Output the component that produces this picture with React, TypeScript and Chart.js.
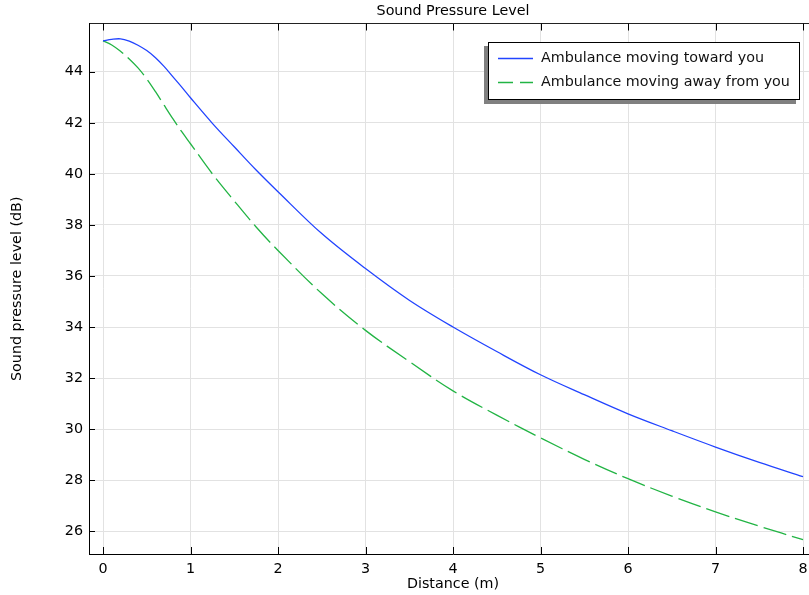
import React, { useEffect, useRef } from "react";
import { Chart, registerables } from "chart.js";

Chart.register(...registerables);

const DISTANCE = [0, 0.1, 0.2, 0.3, 0.4, 0.5, 0.6, 0.7, 0.8, 0.9, 1.0, 1.25, 1.5, 1.75, 2.0, 2.5, 3.0, 3.5, 4.0, 4.5, 5.0, 5.5, 6.0, 6.5, 7.0, 7.5, 8.0];
const TOWARD = [45.21, 45.27, 45.29, 45.2, 45.04, 44.83, 44.55, 44.2, 43.8, 43.4, 42.98, 41.98, 41.06, 40.15, 39.3, 37.66, 36.29, 35.05, 34.0, 33.04, 32.13, 31.35, 30.6, 29.94, 29.3, 28.7, 28.14];
const AWAY = [45.21, 45.05, 44.8, 44.5, 44.15, 43.72, 43.22, 42.68, 42.15, 41.65, 41.18, 40.0, 38.94, 37.92, 37.0, 35.31, 33.87, 32.65, 31.5, 30.55, 29.66, 28.82, 28.06, 27.38, 26.76, 26.2, 25.67];

const X_TICKS = [0, 1, 2, 3, 4, 5, 6, 7, 8];
const Y_TICKS = [26, 28, 30, 32, 34, 36, 38, 40, 42, 44];

const SERIES_LABELS = ["Ambulance moving toward you", "Ambulance moving away from you"];
const TITLE = "Sound Pressure Level";
const X_TITLE = "Distance (m)";
const Y_TITLE = "Sound pressure level (dB)";

const FONT = "'DejaVu Sans', sans-serif";
const FS = 14.3;

const frameAndTicks = {
  id: "frameAndTicks",
  afterDraw(chart: any) {
    const { ctx, chartArea: a, scales } = chart;
    const x = scales.x;
    const y = scales.y;
    ctx.save();
    ctx.strokeStyle = "#000";
    ctx.lineWidth = 1;
    ctx.beginPath();
    for (const t of x.ticks) {
      const px = Math.round(x.getPixelForValue(t.value)) + 0.5;
      ctx.moveTo(px, a.bottom);
      ctx.lineTo(px, a.bottom - 7);
      ctx.moveTo(px, a.top);
      ctx.lineTo(px, a.top + 7);
    }
    for (const t of y.ticks) {
      const py = Math.round(y.getPixelForValue(t.value)) + 0.5;
      ctx.moveTo(a.left, py);
      ctx.lineTo(a.left + 6, py);
    }
    ctx.stroke();
    ctx.restore();
  },
};

const boxLegend = {
  id: "boxLegend",
  afterDraw(chart: any) {
    const { ctx } = chart;
    const bx = 488, by = 42, bw = 312, bh = 58;
    ctx.save();
    ctx.fillStyle = "#808080";
    ctx.fillRect(bx - 4, by + 4, bw, bh);
    ctx.fillStyle = "#fff";
    ctx.fillRect(bx, by, bw, bh);
    ctx.strokeStyle = "#000";
    ctx.lineWidth = 1;
    ctx.strokeRect(bx + 0.5, by + 0.5, bw - 1, bh - 1);
    ctx.font = `${FS}px ${FONT}`;
    ctx.textBaseline = "middle";
    chart.data.datasets.forEach((ds: any, i: number) => {
      const ly = by + 16 + i * 24;
      ctx.strokeStyle = ds.borderColor;
      ctx.lineWidth = 1.3;
      ctx.setLineDash(ds.borderDash && ds.borderDash.length ? [15, 7] : []);
      ctx.beginPath();
      ctx.moveTo(bx + 10, ly + 0.5);
      ctx.lineTo(bx + 45, ly + 0.5);
      ctx.stroke();
      ctx.setLineDash([]);
      ctx.fillStyle = "#111";
      ctx.fillText(ds.label, bx + 53, ly);
    });
    ctx.restore();
  },
};

export default function App() {
  const ref = useRef<HTMLCanvasElement | null>(null);

  useEffect(() => {
    if (!ref.current) return;
    Chart.defaults.font.family = FONT;
    Chart.defaults.font.size = FS;
    Chart.defaults.color = "#000";

    const chart = new Chart(ref.current, {
      type: "line",
      data: {
        datasets: [
          {
            label: SERIES_LABELS[0],
            data: DISTANCE.map((d, i) => ({ x: d, y: TOWARD[i] })),
            borderColor: "#2244ff",
            borderWidth: 1.3,
            pointRadius: 0,
            tension: 0.35,
            fill: false,
          },
          {
            label: SERIES_LABELS[1],
            data: DISTANCE.map((d, i) => ({ x: d, y: AWAY[i] })),
            borderColor: "#22b444",
            borderWidth: 1.3,
            borderDash: [24, 6],
            pointRadius: 0,
            tension: 0.35,
            fill: false,
          },
        ],
      },
      options: {
        animation: false,
        responsive: true,
        maintainAspectRatio: false,
        layout: { padding: { left: 0, right: 13, top: 0, bottom: 0 } },
        plugins: {
          legend: { display: false },
          title: { display: false },
          tooltip: { enabled: false },
        },
        scales: {
          x: {
            type: "linear",
            position: "bottom",
            min: -0.16,
            max: 8.16,
            afterBuildTicks: (s: any) => {
              s.ticks = X_TICKS.map((v) => ({ value: v }));
            },
            afterFit: (s: any) => {
              s.height = 41;
            },
            ticks: { padding: 7, color: "#000", font: { size: FS } },
            grid: { color: "#e2e2e2", lineWidth: 1, drawTicks: false },
            border: { display: true, color: "#000", width: 1 },
            title: {
              display: true,
              text: X_TITLE,
              color: "#000",
              font: { size: FS },
              padding: { top: 0, bottom: 2.6 },
            },
          },
          x2: {
            type: "linear",
            position: "top",
            min: -0.16,
            max: 8.16,
            ticks: { display: false },
            grid: { display: false, drawTicks: false },
            border: { display: true, color: "#222", width: 1 },
            afterFit: (s: any) => {
              s.height = 23.5;
            },
            title: {
              display: true,
              text: TITLE,
              color: "#000",
              font: { size: FS },
              padding: { top: 2.6, bottom: 0 },
            },
          },
          y: {
            type: "linear",
            position: "left",
            min: 25.11,
            max: 45.89,
            afterBuildTicks: (s: any) => {
              s.ticks = Y_TICKS.map((v) => ({ value: v }));
            },
            afterFit: (s: any) => {
              s.width = 89;
            },
            ticks: { padding: 6, color: "#000", font: { size: FS } },
            grid: { color: "#e2e2e2", lineWidth: 1, drawTicks: false },
            border: { display: true, color: "#000", width: 1 },
            title: {
              display: true,
              text: Y_TITLE,
              color: "#000",
              font: { size: FS },
              padding: { top: 8.6, bottom: 0 },
            },
          },
        },
      } as any,
      plugins: [frameAndTicks, boxLegend],
    });
    return () => chart.destroy();
  }, []);

  return (
    <div style={{ position: "fixed", left: 0, top: 0, width: 830, height: 595, background: "#fff" }}>
      <canvas ref={ref} />
    </div>
  );
}
